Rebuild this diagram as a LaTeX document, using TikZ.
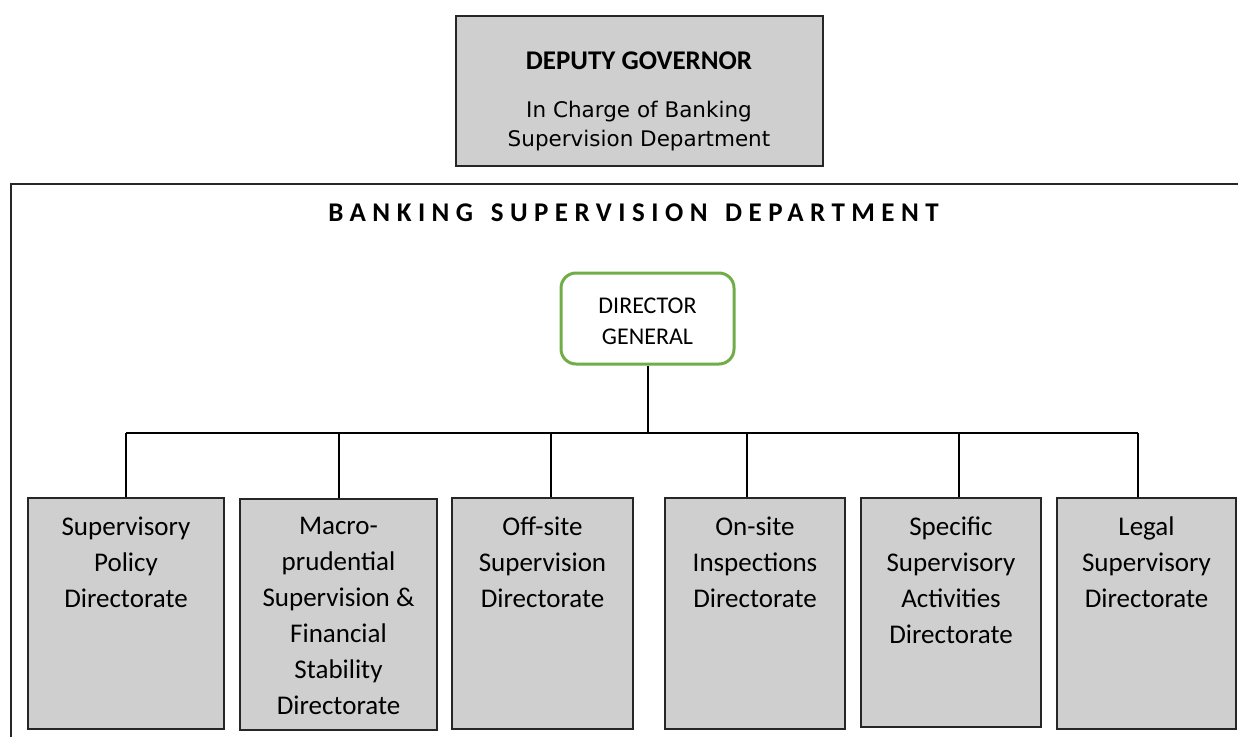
\documentclass[tikz,border=0pt]{standalone}
\usepackage{fontspec}
\setmainfont{Carlito}
\newfontfamily\widesans{DejaVu Sans}
\definecolor{boxgray}{RGB}{207,207,207}
\definecolor{edgegray}{RGB}{38,38,38}
\definecolor{dggreen}{RGB}{112,173,71}

\begin{document}
\begin{tikzpicture}[x=1pt,y=-1pt]
  \tikzstyle{every node}+=[inner sep=0pt]
  \tikzstyle{greybox}=[draw=edgegray,line width=2pt,fill=boxgray,minimum height=231pt]
  \tikzstyle{unittext}=[align=center,anchor=north,font=\fontsize{27}{36}\selectfont]
  \tikzstyle{link}=[black,line width=2pt]
  \clip (0,0) rectangle (1238,736);
  % deputy governor on top
  \node [greybox,minimum width=367pt,minimum height=150pt] (dep) at (639.5,91) {};
  \node [font=\fontsize{27}{32}\selectfont\bfseries] (deptitle) at (639,61) {DEPUTY GOVERNOR};
  \node [align=center,font=\fontsize{21.5}{29}\selectfont\widesans] (depsub) at (639,126.5) {In Charge of Banking\\Supervision Department};
  % department frame
  \draw [edgegray,line width=2.5pt] (11,760) -- (11,184) -- (1260,184);
  \node [font=\fontsize{27}{32}\selectfont\bfseries\addfontfeature{LetterSpace=24}] (bsd) at (633.5,213)
    {BANKING \hspace{5pt}SUPERVISION \hspace{5pt}DEPARTMENT};
  % director general
  \node [draw=dggreen,line width=3pt,rounded corners=15pt,minimum width=173pt,minimum height=91pt] (dg) at (647.5,318.5) {};
  \node [align=center,font=\fontsize{24}{31}\selectfont] (dgtext) at (647.5,321.5) {DIRECTOR\\GENERAL};
  % directorates
  \node [greybox,minimum width=196pt] (spd) at (126,613.5) {};
  \node [unittext] (spdtext) at (126,517) {Supervisory\\Policy\\Directorate};
  \node [greybox,minimum width=197pt] (mps) at (338.5,614) {};
  \node [unittext] (mpstext) at (338.5,517) {Macro-\\prudential\\Supervision \&\\Financial\\Stability\\Directorate};
  \node [greybox,minimum width=181pt] (osd) at (542.5,613.5) {};
  \node [unittext] (osdtext) at (542.5,517) {Off-site\\Supervision\\Directorate};
  \node [greybox,minimum width=180pt] (oid) at (755,613.5) {};
  \node [unittext] (oidtext) at (755,517) {On-site\\Inspections\\Directorate};
  \node [greybox,minimum width=180pt,minimum height=229pt] (ssa) at (951,612.5) {};
  \node [unittext] (ssatext) at (951,517) {Specific\\Supervisory\\Activities\\Directorate};
  \node [greybox,minimum width=179pt] (lsd) at (1146.5,613.5) {};
  \node [unittext] (lsdtext) at (1146.5,517) {Legal\\Supervisory\\Directorate};
  % connectors
  \coordinate (tap1) at (126,433);
  \coordinate (tap2) at (339,433);
  \coordinate (tap3) at (551,433);
  \coordinate (tap4) at (747,433);
  \coordinate (tap5) at (959,433);
  \coordinate (tap6) at (1138,433);
  \draw [link] (dg.south) -- (dg.south |- tap1);
  \draw [link] (tap1) -- (tap6);
  \draw [link] (tap1) -- (tap1 |- spd.north);
  \draw [link] (tap2) -- (tap2 |- mps.north);
  \draw [link] (tap3) -- (tap3 |- osd.north);
  \draw [link] (tap4) -- (tap4 |- oid.north);
  \draw [link] (tap5) -- (tap5 |- ssa.north);
  \draw [link] (tap6) -- (tap6 |- lsd.north);
\end{tikzpicture}
\end{document}
